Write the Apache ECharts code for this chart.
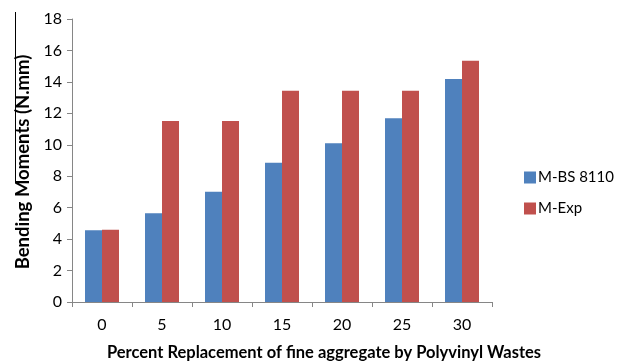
<!DOCTYPE html>
<html>
<head>
<meta charset="utf-8">
<script src="https://cdn.jsdelivr.net/npm/echarts@6/dist/echarts.min.js"></script>
<style>
  html, body { margin: 0; padding: 0; background: #ffffff; }
  #chart { width: 627px; height: 361px; }
</style>
</head>
<body>
<div id="chart"></div>
<script>
// Percent replacement levels (x categories)
const categories = ['0', '5', '10', '15', '20', '25', '30'];
// Bending moments (N.mm) per replacement level
const mBS8110 = [4.56, 5.64, 7.02, 8.86, 10.1, 11.68, 14.19];
const mExp = [4.6, 11.51, 11.51, 13.44, 13.44, 13.44, 15.35];
const seriesNames = ['M-BS 8110', 'M-Exp'];
const yTicks = { min: 0, max: 18, interval: 2 };

const fontFamily = 'Lato, "Open Sans", sans-serif';
const axisGray = '#868686';

const chart = echarts.init(document.getElementById('chart'), null, { renderer: 'canvas' });

chart.setOption({
  animation: false,
  backgroundColor: '#ffffff',
  textStyle: { fontFamily: fontFamily },
  grid: { left: 72, right: 135, top: 19, bottom: 59, containLabel: false },
  legend: {
    orient: 'vertical',
    left: 519,
    top: 165,
    itemWidth: 12,
    itemHeight: 12,
    itemGap: 16,
    icon: 'rect',
    textStyle: { fontSize: 15, color: '#000000', fontFamily: fontFamily, padding: [0, 0, 0, -3] },
    data: seriesNames
  },
  xAxis: {
    type: 'category',
    data: categories,
    boundaryGap: true,
    axisLine: { lineStyle: { color: axisGray, width: 1 } },
    axisTick: { show: true, length: 5, alignWithLabel: false, lineStyle: { color: axisGray } },
    axisLabel: { fontSize: 16, color: '#000000', margin: 15, fontFamily: fontFamily },
    splitLine: { show: false }
  },
  yAxis: {
    type: 'value',
    min: yTicks.min,
    max: yTicks.max,
    interval: yTicks.interval,
    axisLine: { show: true, lineStyle: { color: axisGray, width: 1 } },
    axisTick: { show: true, length: 5, lineStyle: { color: axisGray } },
    axisLabel: { fontSize: 16, color: '#000000', margin: 10, fontFamily: fontFamily },
    splitLine: { show: false }
  },
  series: [
    {
      name: seriesNames[0],
      type: 'bar',
      data: mBS8110,
      barWidth: 17,
      barGap: '0%',
      itemStyle: { color: '#4F81BD' }
    },
    {
      name: seriesNames[1],
      type: 'bar',
      data: mExp,
      barWidth: 17,
      barGap: '0%',
      itemStyle: { color: '#C0504D' }
    }
  ],
  graphic: [
    {
      type: 'text',
      x: 324,
      y: 353,
      style: {
        text: 'Percent Replacement of fine aggregate by Polyvinyl Wastes',
        font: 'bold 16.5px ' + fontFamily,
        fill: '#000000',
        align: 'center',
        verticalAlign: 'middle'
      }
    },
    {
      type: 'text',
      x: 23,
      y: 162,
      rotation: Math.PI / 2,
      style: {
        text: 'Bending Moments (N.mm)',
        font: 'bold 18.5px ' + fontFamily,
        fill: '#000000',
        align: 'center',
        verticalAlign: 'middle'
      }
    },
    {
      type: 'line',
      shape: { x1: 15.5, y1: 12, x2: 15.5, y2: 182 },
      style: { stroke: '#000000', lineWidth: 1 }
    }
  ]
});
</script>
</body>
</html>
